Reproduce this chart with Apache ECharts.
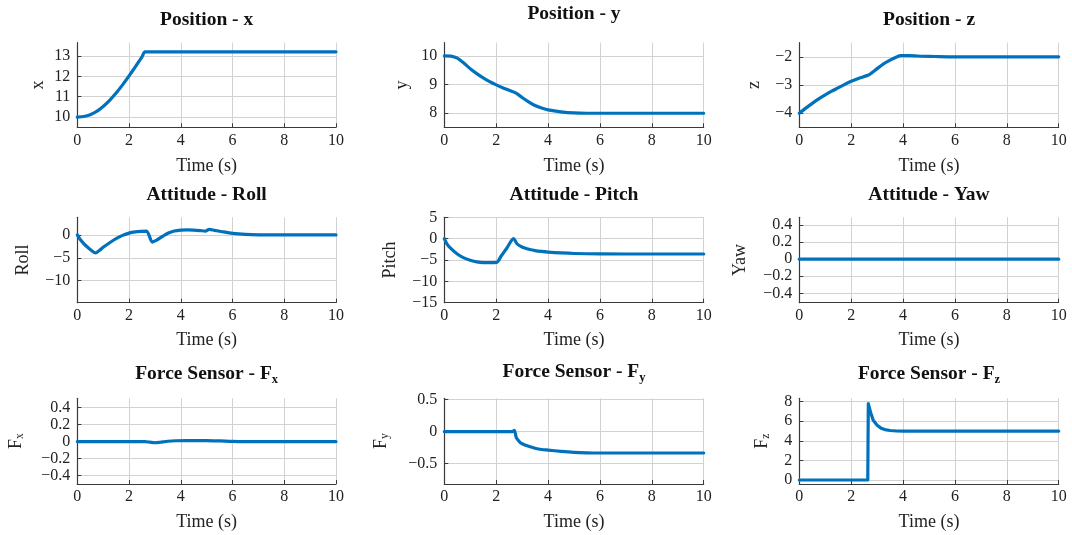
<!DOCTYPE html>
<html>
<head>
<meta charset="utf-8">
<title>Flight response</title>
<script src="https://cdn.jsdelivr.net/npm/echarts@6/dist/echarts.min.js"></script>
<style>
  html, body { margin: 0; padding: 0; background: #ffffff; }
  #chart { width: 1072px; height: 535px; }
</style>
</head>
<body>
<div id="chart"></div>
<script>
// ---- time axis ----
const timeTicks = [0, 2, 4, 6, 8, 10];

// ---- Position - x ----
const posXTime = [0, 0.25, 0.5, 0.75, 1, 1.25, 1.5, 1.75, 2, 2.25, 2.5, 2.62, 4, 6, 8, 10];
const posXVal  = [10.0, 10.03, 10.12, 10.28, 10.52, 10.82, 11.18, 11.58, 12.02, 12.48, 12.95, 13.2, 13.2, 13.2, 13.2, 13.2];
const posXTicks = [10, 11, 12, 13];

// ---- Position - y ----
const posYTime = [0, 0.25, 0.5, 0.75, 1, 1.25, 1.5, 1.75, 2, 2.25, 2.5, 2.75, 3, 3.25, 3.5, 3.75, 4, 4.5, 5, 5.5, 6, 8, 10];
const posYVal  = [10.0, 9.99, 9.92, 9.75, 9.55, 9.38, 9.23, 9.1, 8.99, 8.89, 8.8, 8.71, 8.55, 8.4, 8.27, 8.18, 8.12, 8.05, 8.01, 8.0, 8.0, 8.0, 8.0];
const posYTicks = [8, 9, 10];

// ---- Position - z ----
const posZTime = [0, 0.25, 0.5, 0.75, 1, 1.25, 1.5, 1.75, 2, 2.25, 2.5, 2.7, 3, 3.25, 3.5, 3.75, 3.9, 4.25, 4.75, 5.25, 6, 8, 10];
const posZVal  = [-4.0, -3.82, -3.65, -3.49, -3.35, -3.22, -3.1, -2.98, -2.87, -2.78, -2.7, -2.63, -2.42, -2.25, -2.12, -2.01, -1.96, -1.96, -1.98, -1.99, -2.0, -2.0, -2.0];
const posZTicks = [-4, -3, -2];

// ---- Attitude - Roll ----
const rollTime = [0, 0.1, 0.25, 0.4, 0.55, 0.7, 0.85, 1, 1.25, 1.5, 1.75, 2, 2.25, 2.5, 2.68, 2.9, 3.05, 3.3, 3.5, 3.75, 4, 4.25, 4.5, 4.75, 4.95, 5.1, 5.3, 5.6, 6, 6.5, 7, 8, 10];
const rollVal  = [0, -0.9, -1.9, -2.7, -3.4, -3.9, -3.4, -2.7, -1.7, -0.8, -0.1, 0.4, 0.65, 0.78, 0.85, -1.55, -1.2, -0.3, 0.35, 0.85, 1.05, 1.1, 1.05, 0.95, 0.85, 1.2, 1.0, 0.7, 0.35, 0.12, 0.03, 0, 0];
const rollTicks = [-10, -5, 0];

// ---- Attitude - Pitch ----
const pitchTime = [0, 0.1, 0.25, 0.5, 0.75, 1, 1.25, 1.5, 1.75, 2.02, 2.2, 2.4, 2.67, 2.8, 2.95, 3.1, 3.3, 3.5, 3.75, 4, 4.5, 5, 6, 8, 10];
const pitchVal  = [0, -1.2, -2.3, -3.6, -4.5, -5.05, -5.45, -5.6, -5.6, -5.55, -4.0, -2.3, 0, -1.2, -1.8, -2.2, -2.55, -2.8, -3.0, -3.15, -3.35, -3.48, -3.57, -3.6, -3.6];
const pitchTicks = [-15, -10, -5, 0, 5];

// ---- Attitude - Yaw ----
const yawTime = [0, 2, 4, 6, 8, 10];
const yawVal  = [0, 0, 0, 0, 0, 0];
const yawTicks = [-0.4, -0.2, 0, 0.2, 0.4];

// ---- Force Sensor - Fx ----
const fxTime = [0, 2.6, 2.8, 3.0, 3.2, 3.5, 3.8, 4.2, 5.0, 5.5, 6.0, 6.5, 10];
const fxVal  = [0, 0, -0.006, -0.014, -0.008, 0.004, 0.01, 0.012, 0.012, 0.008, 0.002, 0, 0];
const fxTicks = [-0.4, -0.2, 0, 0.2, 0.4];

// ---- Force Sensor - Fy ----
const fyTime = [0, 2.62, 2.7, 2.78, 2.9, 3.0, 3.25, 3.5, 3.75, 4, 4.5, 5, 5.5, 6, 8, 10];
const fyVal  = [0, 0, 0.02, -0.1, -0.16, -0.19, -0.23, -0.26, -0.28, -0.29, -0.31, -0.325, -0.332, -0.335, -0.335, -0.335];
const fyTicks = [-0.5, 0, 0.5];

// ---- Force Sensor - Fz ----
const fzTime = [0, 2.64, 2.66, 2.75, 2.85, 3.0, 3.15, 3.3, 3.5, 3.75, 4, 6, 8, 10];
const fzVal  = [0, 0, 7.8, 6.9, 6.1, 5.6, 5.3, 5.15, 5.06, 5.01, 5.0, 5.0, 5.0, 5.0];
const fzTicks = [0, 2, 4, 6, 8];

// ---- styling ----
const SERIF = '"Liberation Serif", "DejaVu Serif", serif';
const INK = '#222222';
const AXIS = '#3a3a3a';
const GRIDLINE = '#d2d2d2';
const BLUE = '#0072BD';

// column / row frames of the 3x3 layout (pixels)
const cols = [
  { left: 77.3, width: 258.7 },
  { left: 444.3, width: 259.4 },
  { left: 799.3, width: 259.4 }
];
const rows = [
  { top: 42.7, height: 84.6, titleY: 20, nameGap: 30 },
  { top: 217.3, height: 85.4, titleY: 195, nameGap: 29 },
  { top: 398.3, height: 85.7, titleY: 374, nameGap: 29 }
];

const panels = [
  { title: '{t|Position - x}', yName: '{n|x}', t: posXTime, v: posXVal, ticks: posXTicks, min: 9.5, max: 13.65, gap: 29 },
  { title: '{t|Position - y}', yName: '{n|y}', t: posYTime, v: posYVal, ticks: posYTicks, min: 7.51, max: 10.46, gap: 32, titleY: 14 },
  { title: '{t|Position - z}', yName: '{n|z}', t: posZTime, v: posZVal, ticks: posZTicks, min: -4.5, max: -1.5, gap: 35 },
  { title: '{t|Attitude - Roll}', yName: '{n|Roll}', t: rollTime, v: rollVal, ticks: rollTicks, min: -14.8, max: 3.85, gap: 44 },
  { title: '{t|Attitude - Pitch}', yName: '{n|Pitch}', t: pitchTime, v: pitchVal, ticks: pitchTicks, min: -15, max: 5, gap: 44 },
  { title: '{t|Attitude - Yaw}', yName: '{n|Yaw}', t: yawTime, v: yawVal, ticks: yawTicks, min: -0.51, max: 0.49, gap: 49 },
  { title: '{t|Force Sensor - F}{s|x}', yName: '{n|F}{s|x}', t: fxTime, v: fxVal, ticks: fxTicks, min: -0.5, max: 0.51, gap: 51 },
  { title: '{t|Force Sensor - F}{s|y}', yName: '{n|F}{s|y}', t: fyTime, v: fyVal, ticks: fyTicks, min: -0.82, max: 0.52, gap: 53, titleY: 372 },
  { title: '{t|Force Sensor - F}{s|z}', yName: '{n|F}{s|z}', t: fzTime, v: fzVal, ticks: fzTicks, min: -0.41, max: 8.35, gap: 27, smooth: false }
];

const minus = (v) => String(v).replace('-', '\u2212');

const grid = [], xAxis = [], yAxis = [], series = [], title = [];

panels.forEach((p, i) => {
  const c = cols[i % 3];
  const r = rows[Math.floor(i / 3)];

  grid.push({
    left: c.left, top: r.top, width: c.width, height: r.height,
    containLabel: false, outerBoundsMode: 'none'
  });

  title.push({
    text: p.title,
    left: c.left + c.width / 2,
    top: p.titleY !== undefined ? p.titleY : r.titleY,
    textAlign: 'center',
    textVerticalAlign: 'middle',
    padding: 0,
    textStyle: {
      rich: {
        t: { fontFamily: SERIF, fontSize: 19.5, fontWeight: 'bold', color: '#111', lineHeight: 24, verticalAlign: 'middle' },
        s: { fontFamily: SERIF, fontSize: 12.5, fontWeight: 'bold', color: '#111', lineHeight: 14, verticalAlign: 'bottom' }
      }
    }
  });

  xAxis.push({
    gridIndex: i, type: 'value', min: 0, max: 10, interval: 2,
    name: 'Time (s)', nameLocation: 'middle', nameGap: r.nameGap,
    nameMoveOverlap: false,
    nameTextStyle: { fontFamily: SERIF, fontSize: 18, color: INK },
    axisLine: { show: true, onZero: false, lineStyle: { color: AXIS, width: 1.2 } },
    axisTick: { show: true, inside: true, length: 4, lineStyle: { color: AXIS } },
    axisLabel: {
      margin: 5, fontFamily: SERIF, fontSize: 16, color: INK,
      customValues: timeTicks, formatter: minus
    },
    splitLine: { show: true, lineStyle: { color: GRIDLINE, width: 1 } }
  });

  yAxis.push({
    gridIndex: i, type: 'value', min: p.min, max: p.max,
    name: p.yName, nameLocation: 'middle', nameRotate: 90, nameGap: p.gap,
    nameMoveOverlap: false,
    nameTextStyle: {
      rich: {
        n: { fontFamily: SERIF, fontSize: 18, color: INK, lineHeight: 20, verticalAlign: 'middle' },
        s: { fontFamily: SERIF, fontSize: 11.5, color: INK, lineHeight: 12, verticalAlign: 'bottom' }
      }
    },
    axisLine: { show: true, onZero: false, lineStyle: { color: AXIS, width: 1.2 } },
    axisTick: { show: true, inside: true, length: 4, lineStyle: { color: AXIS }, customValues: p.ticks },
    axisLabel: {
      margin: 7, fontFamily: SERIF, fontSize: 16, color: INK,
      customValues: p.ticks, formatter: minus
    },
    splitLine: { show: true, lineStyle: { color: GRIDLINE, width: 1 } }
  });

  series.push({
    type: 'line',
    xAxisIndex: i, yAxisIndex: i,
    data: p.t.map((t, k) => [t, p.v[k]]),
    showSymbol: false,
    smooth: p.smooth === false ? false : 0.25,
    lineStyle: { color: BLUE, width: 3.2, join: 'round', cap: 'round' },
    itemStyle: { color: BLUE },
    silent: true,
    animation: false,
    z: 5
  });
});

const chart = echarts.init(document.getElementById('chart'), null, { renderer: 'canvas' });
chart.setOption({
  backgroundColor: '#ffffff',
  animation: false,
  title, grid, xAxis, yAxis, series
});
</script>
</body>
</html>
